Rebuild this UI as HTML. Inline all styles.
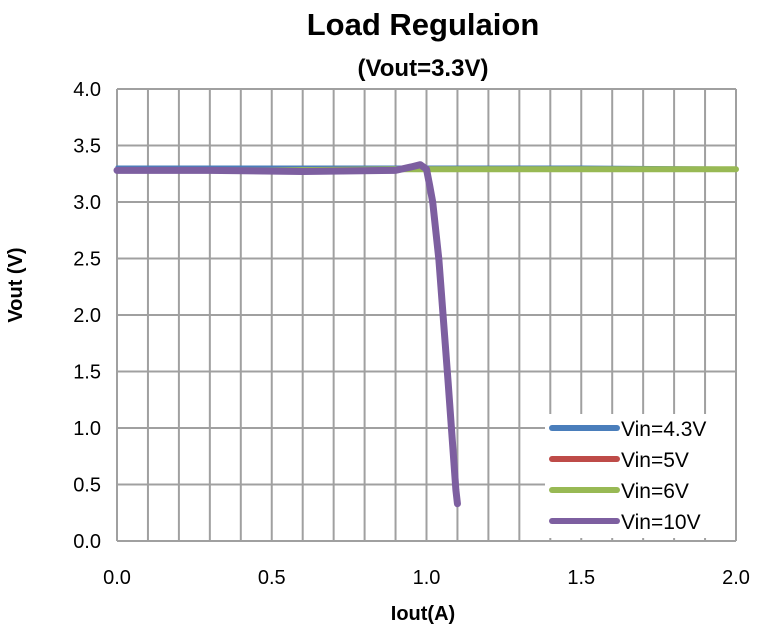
<!DOCTYPE html>
<html><head><meta charset="utf-8"><style>
body{margin:0;background:#fff;width:759px;height:631px;overflow:hidden;font-family:"Liberation Sans",sans-serif}
</style></head><body>
<svg id="c" width="759" height="631" xmlns="http://www.w3.org/2000/svg" font-family="Liberation Sans, sans-serif">
<text x="423" y="35" text-anchor="middle" font-size="31" font-weight="bold">Load Regulaion</text>
<text x="423" y="76" text-anchor="middle" font-size="24" font-weight="bold">(Vout=3.3V)</text>
<g id="grid"></g>
<g id="series"></g>
<g id="axes"></g>
<text x="423" y="620" text-anchor="middle" font-size="20" font-weight="bold">Iout(A)</text>
<text transform="translate(22,285) rotate(-90)" text-anchor="middle" font-size="20" font-weight="bold">Vout (V)</text>
<g id="legend"></g>
</svg>
<script>
const xTicks=[0,0.5,1.0,1.5,2.0];
const xTickLabels=["0.0","0.5","1.0","1.5","2.0"];
const yTicks=[0,0.5,1,1.5,2,2.5,3,3.5,4];
const yTickLabels=["0.0","0.5","1.0","1.5","2.0","2.5","3.0","3.5","4.0"];
const seriesNames=["Vin=4.3V","Vin=5V","Vin=6V","Vin=10V"];
const seriesColors=["#4a7ebb","#be4b48","#98b954","#7d5fa0"];
const seriesWidths=[3,3,6,7];
const x43=[0,0.5,1.0,1.5,2.0], y43=[3.31,3.31,3.31,3.31,3.30];
const x5=[0,0.5,1.0,1.5,2.0], y5=[3.28,3.28,3.28,3.28,3.28];
const x6=[0,0.5,0.92,1.0,1.5,2.0], y6=[3.28,3.28,3.29,3.29,3.29,3.29];
const x10=[0,0.3,0.6,0.9,0.95,0.98,1.0,1.01,1.02,1.04,1.07,1.095,1.1];
const y10=[3.28,3.28,3.27,3.28,3.31,3.33,3.29,3.15,3.0,2.49,1.4,0.45,0.33];
const L=117,R=736,T=89,B=541;
const X=v=>L+v/2*(R-L), Y=v=>B-v/4*(B-T);
const NS="http://www.w3.org/2000/svg";
function mk(t,a,p){const e=document.createElementNS(NS,t);for(const k in a)e.setAttribute(k,a[k]);p.appendChild(e);return e;}
const g=document.getElementById('grid');
for(let i=0;i<=20;i++){const l=mk('line',{x1:X(i*0.1),x2:X(i*0.1),y1:T,y2:B,stroke:'#a0a0a0','stroke-width':2},g);
}
yTicks.forEach(v=>{const l=mk('line',{x1:L,x2:R,y1:Y(v),y2:Y(v),stroke:'#a0a0a0','stroke-width':2},g);
});
const ax=document.getElementById('axes');
xTicks.forEach((v,i)=>{const t=mk('text',{x:X(v),y:584,'text-anchor':'middle','font-size':20},ax);t.textContent=xTickLabels[i];
});
yTicks.forEach((v,i)=>{const t=mk('text',{x:101,y:Y(v)+7,'text-anchor':'end','font-size':20},ax);t.textContent=yTickLabels[i];
});
const s=document.getElementById('series');
const data=[[x43,y43],[x5,y5],[x6,y6],[x10,y10]];
[0,1,2,3].forEach(i=>{const [xs,ys]=data[i];const p=mk('polyline',{points:xs.map((x,j)=>X(x)+','+Y(ys[j])).join(' '),fill:'none',stroke:seriesColors[i],'stroke-width':seriesWidths[i],'stroke-linejoin':'round','stroke-linecap':'round'},s);
});
const lg=document.getElementById('legend');
const bg=mk('rect',{x:545,y:414,width:190,height:124,fill:'#fff'},lg);

seriesNames.forEach((n,i)=>{const y=428+i*31;
const l=mk('line',{x1:552,x2:617,y1:y,y2:y,stroke:seriesColors[i],'stroke-width':6,'stroke-linecap':'round'},lg);

const t=mk('text',{x:621,y:y+8,'font-size':21},lg);t.textContent=n;
});
</script>
</body></html>
